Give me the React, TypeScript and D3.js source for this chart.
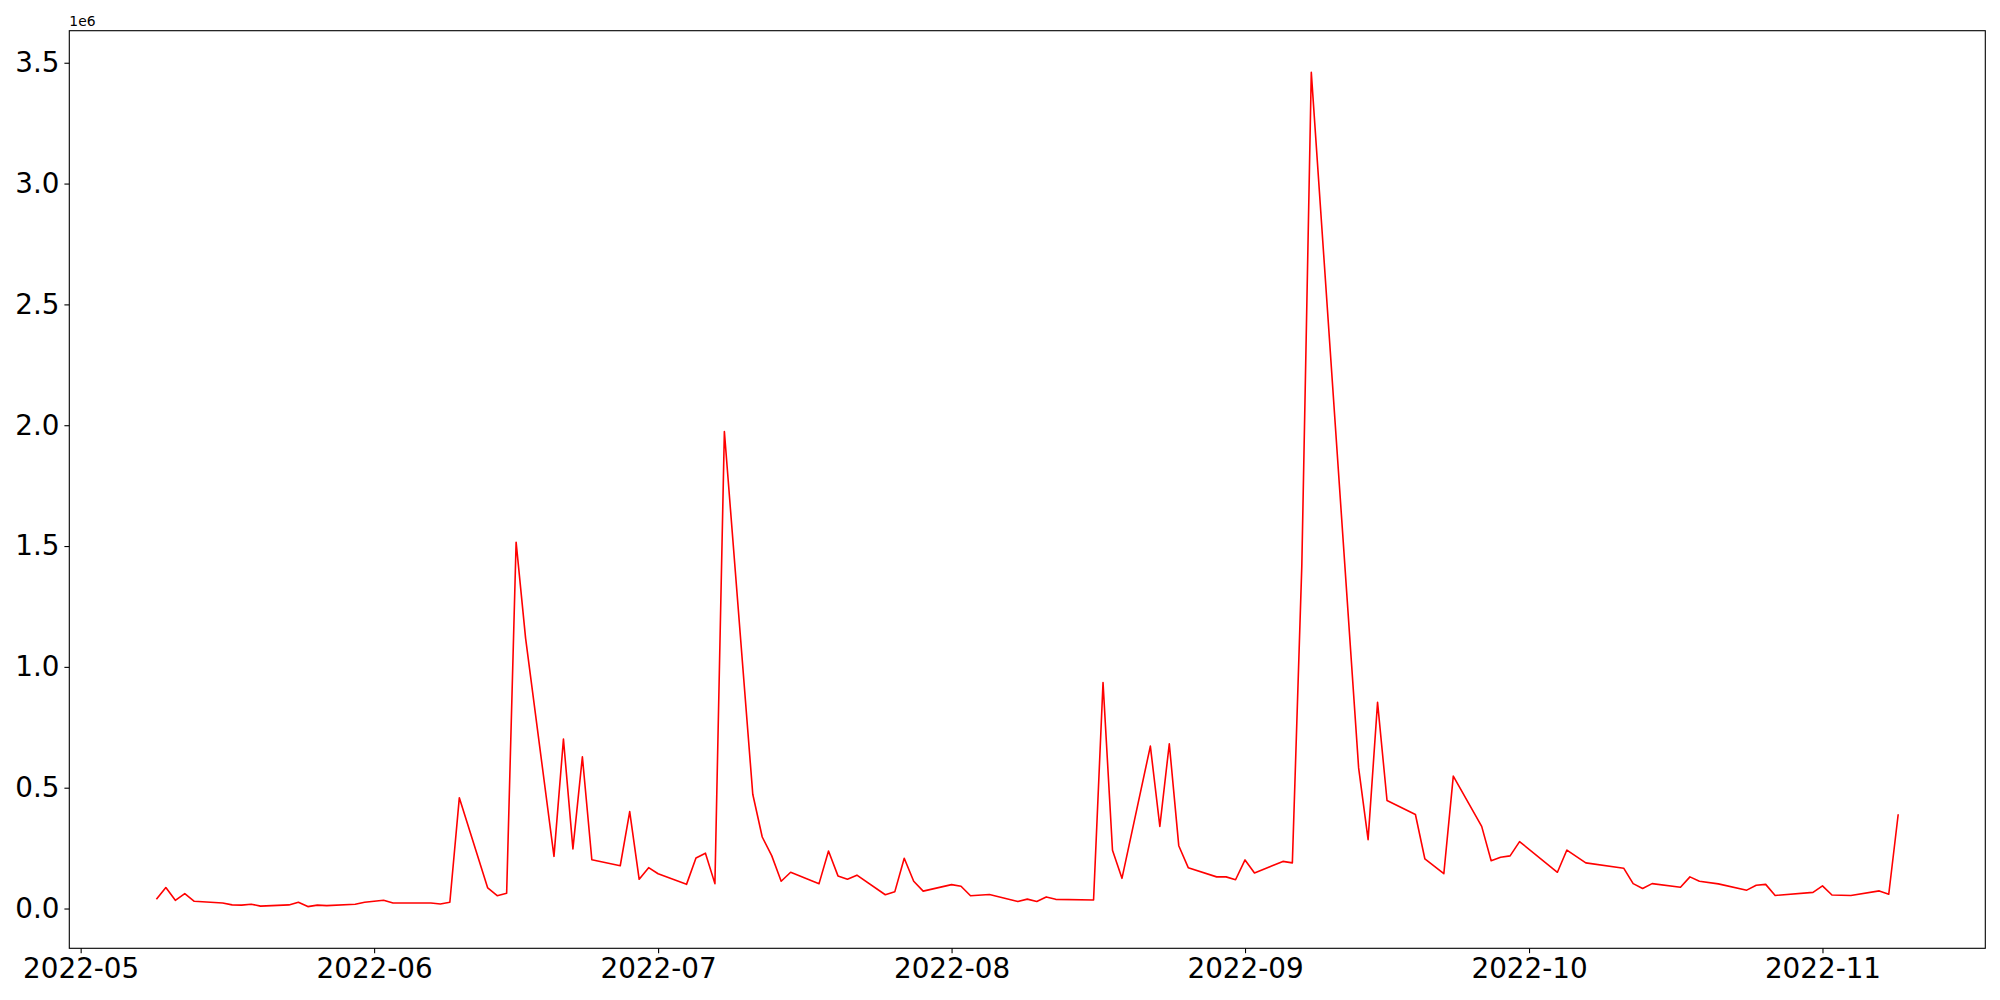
import * as React from "react";
import * as d3 from "d3";

// daily values (trading days)
const dates = [
  "2022-05-09", "2022-05-10", "2022-05-11", "2022-05-12", "2022-05-13",
  "2022-05-16", "2022-05-17", "2022-05-18", "2022-05-19", "2022-05-20",
  "2022-05-23", "2022-05-24", "2022-05-25", "2022-05-26", "2022-05-27",
  "2022-05-30", "2022-05-31", "2022-06-01", "2022-06-02", "2022-06-03",
  "2022-06-06", "2022-06-07", "2022-06-08", "2022-06-09", "2022-06-10",
  "2022-06-13", "2022-06-14", "2022-06-15", "2022-06-16", "2022-06-17",
  "2022-06-20", "2022-06-21", "2022-06-22", "2022-06-23", "2022-06-24",
  "2022-06-27", "2022-06-28", "2022-06-29", "2022-06-30", "2022-07-01",
  "2022-07-04", "2022-07-05", "2022-07-06", "2022-07-07", "2022-07-08",
  "2022-07-11", "2022-07-12", "2022-07-13", "2022-07-14", "2022-07-15",
  "2022-07-18", "2022-07-19", "2022-07-20", "2022-07-21", "2022-07-22",
  "2022-07-25", "2022-07-26", "2022-07-27", "2022-07-28", "2022-07-29",
  "2022-08-01", "2022-08-02", "2022-08-03", "2022-08-05",
  "2022-08-08", "2022-08-09", "2022-08-10", "2022-08-11", "2022-08-12",
  "2022-08-16", "2022-08-17", "2022-08-18", "2022-08-19",
  "2022-08-22", "2022-08-23", "2022-08-24", "2022-08-25", "2022-08-26",
  "2022-08-29", "2022-08-30", "2022-08-31", "2022-09-01", "2022-09-02",
  "2022-09-05", "2022-09-06", "2022-09-07", "2022-09-08",
  "2022-09-13", "2022-09-14", "2022-09-15", "2022-09-16",
  "2022-09-19", "2022-09-20", "2022-09-22", "2022-09-23",
  "2022-09-26", "2022-09-27", "2022-09-28", "2022-09-29", "2022-09-30",
  "2022-10-04", "2022-10-05", "2022-10-07",
  "2022-10-11", "2022-10-12", "2022-10-13", "2022-10-14",
  "2022-10-17", "2022-10-18", "2022-10-19", "2022-10-21",
  "2022-10-24", "2022-10-25", "2022-10-26", "2022-10-27",
  "2022-10-31", "2022-11-01", "2022-11-02", "2022-11-04",
  "2022-11-07", "2022-11-08", "2022-11-09",
];

const values = [
  38000, 87000, 34000, 62000, 30000,
  23000, 15000, 14000, 18000, 10000,
  15000, 26000, 8000, 14000, 12000,
  18000, 26000, 30000, 34000, 23000,
  23000, 23000, 19000, 26000, 458000,
  85000, 53000, 63000, 1516000, 1119000,
  216000, 701000, 247000, 628000, 202000,
  177000, 401000, 121000, 169000, 144000,
  100000, 209000, 229000, 103000, 1974000,
  473000, 296000, 219000, 113000, 150000,
  103000, 238000, 135000, 121000, 138000,
  57000, 69000, 208000, 113000, 72000,
  99000, 92000, 53000, 58000,
  29000, 39000, 29000, 48000, 38000,
  35000, 935000, 241000, 125000,
  672000, 340000, 682000, 260000, 169000,
  131000, 131000, 119000, 201000, 147000,
  195000, 189000, 1420000, 3460000,
  582000, 285000, 853000, 447000,
  389000, 205000, 144000, 548000,
  340000, 198000, 212000, 218000, 277000,
  150000, 242000, 189000,
  167000, 103000, 83000, 103000,
  88000, 131000, 113000, 102000,
  76000, 96000, 100000, 54000,
  67000, 94000, 56000, 54000,
  73000, 59000, 390000,
];

const yTicks = [0, 500000, 1000000, 1500000, 2000000, 2500000, 3000000, 3500000];

const width = 2000;
const height = 1000;
const margin = { top: 30.7, right: 14.7, bottom: 51.7, left: 69.3 };
const fontFamily = '"DejaVu Sans", sans-serif';
const tickFont = 27.8;

function drawChart(svgRef) {
  const svg = d3.select(svgRef.current);
  svg.selectAll("*").remove();

  const parseDate = d3.utcParse("%Y-%m-%d");
  const data = dates.map((d, i) => ({ date: parseDate(d), value: values[i] }));

  const innerW = width - margin.left - margin.right;
  const innerH = height - margin.top - margin.bottom;

  // matplotlib style 5% margins
  const [t0, t1] = d3.extent(data, (d) => d.date.getTime());
  const tPad = (t1 - t0) * 0.05;
  const [v0, v1] = d3.extent(data, (d) => d.value);
  const vPad = (v1 - v0) * 0.05;

  const xScale = d3
    .scaleUtc()
    .domain([new Date(t0 - tPad), new Date(t1 + tPad)])
    .range([0, innerW]);

  const yScale = d3
    .scaleLinear()
    .domain([v0 - vPad, v1 + vPad])
    .range([innerH, 0]);

  svg.attr("width", width).attr("height", height);
  svg.append("rect").attr("width", width).attr("height", height).attr("fill", "#fff");

  const g = svg.append("g").attr("transform", `translate(${margin.left}, ${margin.top})`);

  const line = d3
    .line()
    .x((d) => xScale(d.date))
    .y((d) => yScale(d.value));

  g.append("path")
    .datum(data)
    .attr("d", line)
    .attr("fill", "none")
    .attr("stroke", "#ff0000")
    .attr("stroke-width", 1.6)
    .attr("stroke-linejoin", "round");

  const xAxis = d3
    .axisBottom(xScale)
    .ticks(d3.utcMonth.every(1))
    .tickFormat(d3.utcFormat("%Y-%m"))
    .tickSize(4.9)
    .tickPadding(4.9);

  const yAxis = d3
    .axisLeft(yScale)
    .tickValues(yTicks)
    .tickFormat((v) => (v / 1e6).toFixed(1))
    .tickSize(4.9)
    .tickPadding(4.9);

  const gx = g.append("g").attr("transform", `translate(0, ${innerH})`).call(xAxis);
  const gy = g.append("g").call(yAxis);

  [gx, gy].forEach((ax) => {
    ax.select(".domain").remove();
    ax.selectAll("line").attr("stroke", "#000").attr("stroke-width", 1.1);
    ax.selectAll("text")
      .attr("fill", "#000")
      .style("font-family", fontFamily)
      .style("font-size", tickFont + "px");
  });

  // frame
  g.append("rect")
    .attr("width", innerW)
    .attr("height", innerH)
    .attr("fill", "none")
    .attr("stroke", "#000")
    .attr("stroke-width", 1.1);

  // offset text
  svg
    .append("text")
    .attr("x", margin.left)
    .attr("y", margin.top - 5)
    .style("font-family", fontFamily)
    .style("font-size", "13.9px")
    .attr("fill", "#000")
    .text("1e6");
}

const App = () => {
  const svg = React.useRef(null);
  React.useEffect(() => {
    drawChart(svg);
  }, [svg]);

  return <svg ref={svg} style={{ position: "absolute", left: 0, top: 0, display: "block" }} />;
};

export default App;
